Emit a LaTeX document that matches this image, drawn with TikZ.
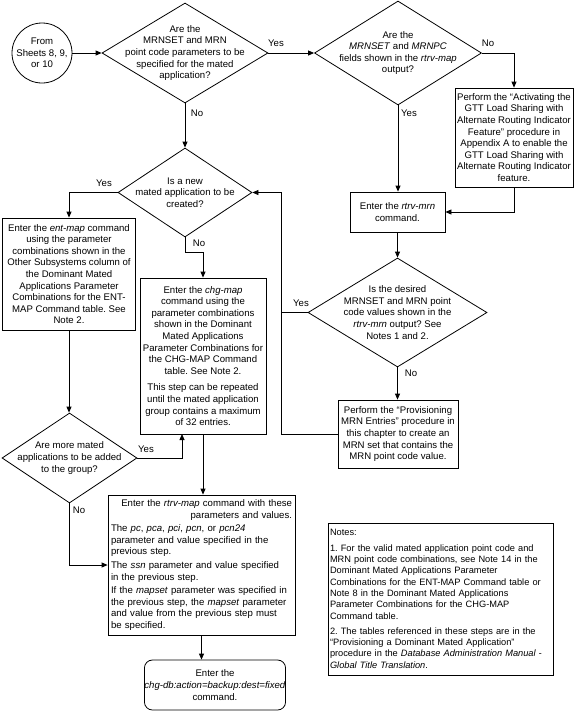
\documentclass[tikz,border=0pt]{standalone}
\usepackage{fontspec}
\setmainfont{Liberation Sans}
\frenchspacing
\usetikzlibrary{shapes.geometric,arrows.meta,calc}
\begin{document}
\begin{tikzpicture}[x=1pt,y=-1pt,
  every node/.style={font=\fontsize{9.6}{11.6}\selectfont\frenchspacing, inner sep=0pt, text=black},
  box/.style={draw, line width=0.8pt, rectangle, align=center},
  circ/.style={draw, line width=0.8pt, circle, minimum size=60pt, align=center},
  dia/.style={draw, line width=0.8pt, diamond, inner sep=0pt},
  dtext/.style={align=center, inner sep=0pt},
  lab/.style={inner sep=0pt},
  conn/.style={draw, line width=0.8pt, -{Triangle[length=6pt,width=5pt]}},
  plain/.style={draw, line width=0.8pt}
]
\useasboundingbox (0,0) rectangle (575,715);

% nodes
\node[circ] (start) at (42,53) {From\\Sheets 8, 9,\\or 10};

\node[dia, minimum width=166pt, minimum height=100pt,
  label={[dtext]center:{Are the\\MRNSET and MRN\\point code parameters to be\\specified for the mated\\application?}}] (d1) at (185,53) {};

\node[dia, minimum width=167pt, minimum height=104pt,
  label={[dtext]center:{Are the\\\textit{MRNSET} and \textit{MRNPC}\\fields shown in the \textit{rtrv-map}\\output?}}] (d2) at (398,53) {};

\node[box, minimum width=118pt, minimum height=99pt] (act) at (514,137.5)
  {Perform the “Activating the\\GTT Load Sharing with\\Alternate Routing Indicator\\Feature” procedure in\\Appendix A to enable the\\GTT Load Sharing with\\Alternate Routing Indicator\\feature.};

\node[box, minimum width=95pt, minimum height=40pt] (mrn) at (397.5,212)
  {Enter the \textit{rtrv-mrn}\\command.};

\node[dia, minimum width=179pt, minimum height=109pt,
  label={[dtext]center:{Is the desired\\MRNSET and MRN point\\code values shown in the\\\textit{rtrv-mrn} output? See\\Notes 1 and 2.}}] (d3) at (397.5,312.5) {};

\node[box, minimum width=120pt, minimum height=68pt] (prov) at (398,434)
  {Perform the “Provisioning\\MRN Entries” procedure in\\this chapter to create an\\MRN set that contains the\\MRN point code value.};

\node[dia, minimum width=134pt, minimum height=89pt,
  label={[dtext]center:{Is a new\\mated application to be\\created?}}] (d4) at (185,192.5) {};

\node[box, minimum width=133pt, minimum height=112pt] (ent) at (69,274)
  {Enter the \textit{ent-map} command\\using the parameter\\combinations shown in the\\Other Subsystems column of\\the Dominant Mated\\Applications Parameter\\Combinations for the ENT-\\MAP Command table. See\\Note 2.};

\node[box, minimum width=126pt, minimum height=156pt] (chg) at (203,356)
  {Enter the \textit{chg-map}\\command using the\\parameter combinations\\shown in the Dominant\\Mated Applications\\Parameter Combinations for\\the CHG-MAP Command\\table. See Note 2.\\[5pt]This step can be repeated\\until the mated application\\group contains a maximum\\of 32 entries.};

\node[dia, minimum width=135pt, minimum height=90pt,
  label={[dtext]center:{Are more mated\\applications to be added\\to the group?}}] (d5) at (69.5,458) {};

\node[box, minimum width=187pt, minimum height=140pt, text width=181pt, align=left] (rtrv) at (201.5,565)
  {\hspace*{\fill}Enter the \textit{rtrv-map} command with these\hspace*{\fill}\\%
   \hspace*{\fill}parameters and values.\hspace*{\fill}\\[2pt]%
   The \textit{pc}, \textit{pca}, \textit{pci}, \textit{pcn}, or \textit{pcn24}\\%
   parameter and value specified in the\\%
   previous step.\\[2pt]%
   The \textit{ssn} parameter and value specified\\%
   in the previous step.\\[2pt]%
   If the \textit{mapset} parameter was specified in\\%
   the previous step, the \textit{mapset} parameter\\%
   and value from the previous step must\\%
   be specified.};

\node[box, rounded corners=8pt, minimum width=136pt, minimum height=50pt] (end) at (215,685)
  {Enter the\\\textit{chg-db:action=backup:dest=fixed}\\command.};

\node[box, minimum width=225pt, minimum height=152pt, text width=221pt, align=left,
  font=\fontsize{9.25}{11.3}\selectfont\frenchspacing] (notes) at (440.5,599)
  {Notes:\\[4pt]%
   1. For the valid mated application point code and\\%
   MRN point code combinations, see Note 14 in the\\%
   Dominant Mated Applications Parameter\\%
   Combinations for the ENT-MAP Command table or\\%
   Note 8 in the Dominant Mated Applications\\%
   Parameter Combinations for the CHG-MAP\\%
   Command table.\\[4pt]%
   2. The tables referenced in these steps are in the\\%
   “Provisioning a Dominant Mated Application”\\%
   procedure in the \textit{Database Administration Manual -}\\%
   \textit{Global Title Translation}.};

% labels
\node[lab] (y1) at (276,43) {Yes};
\node[lab] (n1) at (197,113) {No};
\node[lab] (n2) at (488,43) {No};
\node[lab] (y2) at (409,113) {Yes};
\node[lab] (y4) at (104,183) {Yes};
\node[lab] (n4) at (199,243) {No};
\node[lab] (y3) at (301,303) {Yes};
\node[lab] (n3) at (411,373) {No};
\node[lab] (y5) at (146,449) {Yes};
\node[lab] (n5) at (79,510) {No};

\coordinate (lp) at (281,434);
\coordinate (chgin) at (182,434);

% connectors
\draw[conn] (start.east) -- (d1.west);
\draw[conn] (d1.east) -- (d2.west);
\draw[conn] (d1.south) -- (d4.north);
\draw[conn] (d2.east) -| (act.north);
\draw[conn] (d2.south) -- (d2.south |- mrn.north);
\draw[conn] (act.south) |- (mrn.east);
\draw[conn] (mrn.south) -- (mrn.south |- d3.north);
\draw[conn] (d3.south) -- (d3.south |- prov.north);
\draw[conn] (prov.west) -- (lp) |- (d4.east);
\draw[plain] (d3.west) -- (d3.west -| lp);
\draw[conn] (d4.west) -| (ent.north);
\draw[conn] (d4.south) -- ++(0,15) -| (chg.north);
\draw[conn] (ent.south) -- (ent.south |- d5.north);
\draw[conn] (d5.east) -| (chgin);
\draw[conn] (chg.south) -- (chg.south |- rtrv.north);
\draw[conn] (d5.south) |- (rtrv.west);
\draw[conn] (rtrv.south) -- (rtrv.south |- end.north);
\end{tikzpicture}
\end{document}
